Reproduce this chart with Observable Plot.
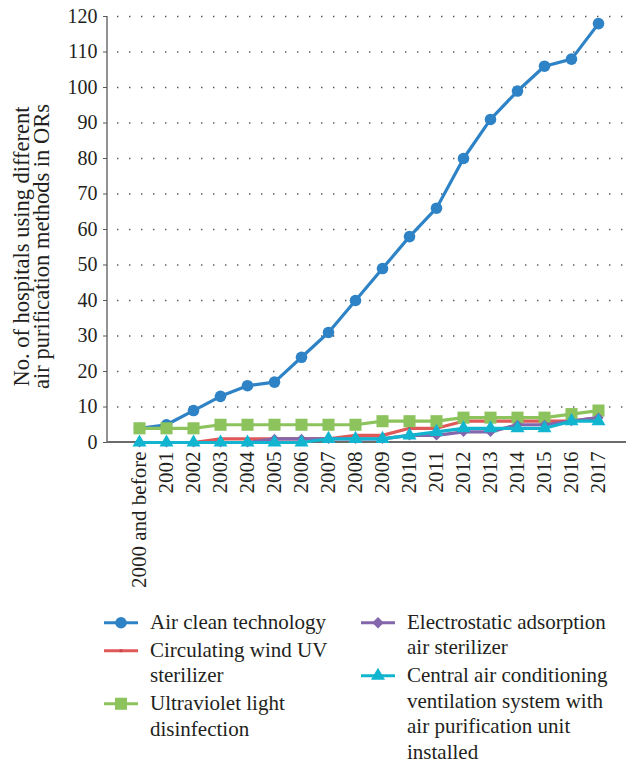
<!DOCTYPE html>
<html>
<head>
<meta charset="utf-8">
<script src="https://cdn.jsdelivr.net/npm/d3@7"></script>
<script src="https://cdn.jsdelivr.net/npm/@observablehq/plot@0.6"></script>
<style>
  html, body { margin: 0; padding: 0; background: #fff; }
  #wrap { width: 626px; height: 763px; position: relative; overflow: hidden; }
  #chart svg, #chart svg text { font-family: "Liberation Serif", "Times New Roman", serif !important; }
  #legend { position: relative; height: 154px; padding-top: 9.5px; font-family: "Liberation Serif", "Times New Roman", serif; font-size: 21px; color: #231f20; }
  .col { position: absolute; top: 9.5px; }
  .item { display: flex; align-items: flex-start; margin-bottom: 2.5px; }
  .item svg { flex: none; margin-top: 0; }
  .item .txt { margin-left: 12px; line-height: 25.5px; white-space: nowrap; }
</style>
</head>
<body>
<div id="wrap">
  <div id="chart"></div>
  <div id="legend"></div>
</div>
<script>
// ---- data ----
const categories = ["2000 and before","2001","2002","2003","2004","2005","2006","2007","2008","2009","2010","2011","2012","2013","2014","2015","2016","2017"];
const airClean      = [4, 5, 9, 13, 16, 17, 24, 31, 40, 49, 58, 66, 80, 91, 99, 106, 108, 118];
const circulatingUV = [0, 0, 0, 1, 1, 1, 1, 1, 2, 2, 4, 4, 6, 6, 6, 6, 6, 7];
const ultraviolet   = [4, 4, 4, 5, 5, 5, 5, 5, 5, 6, 6, 6, 7, 7, 7, 7, 8, 9];
const electrostatic = [0, 0, 0, 0, 0, 1, 1, 1, 1, 1, 2, 2, 3, 3, 5, 5, 6, 7];
const centralAir    = [0, 0, 0, 0, 0, 0, 0, 1, 1, 1, 2, 3, 4, 4, 4, 4, 6, 6];
const yTicks = [0, 10, 20, 30, 40, 50, 60, 70, 80, 90, 100, 110, 120];
const yLabel = "No. of hospitals using different\nair purification methods in ORs";
const seriesNames = [
  "Air clean technology",
  "Circulating wind UV sterilizer",
  "Ultraviolet light disinfection",
  "Electrostatic adsorption air sterilizer",
  "Central air conditioning ventilation system with air purification unit installed"
];
const legendLines = [
  ["Air clean technology"],
  ["Circulating wind UV", "sterilizer"],
  ["Ultraviolet light", "disinfection"],
  ["Electrostatic adsorption", "air sterilizer"],
  ["Central air conditioning", "ventilation system with", "air purification unit", "installed"]
];

// ---- styles ----
const colors = ["#2e83c6", "#e05858", "#8cc35c", "#8466ac", "#12b5cf"];
const markerColors = ["#2e83c6", "#c94444", "#8cc35c", "#8466ac", "#12b5cf"];
const symbols = ["circle", "square", "square", "diamond2", "triangle"];
const radii = [5.8, 1.6, 6.8, 4.6, 5.2];

const allValues = [airClean, circulatingUV, ultraviolet, electrostatic, centralAir];
const rows = [];
seriesNames.forEach((s, i) => {
  categories.forEach((c, j) => rows.push({series: s, idx: i, cat: c, value: allValues[i][j]}));
});

function axisLines(index, scales, values, dims) {
  const g = d3.create("svg:g");
  const x0 = dims.marginLeft, x1 = dims.width - dims.marginRight;
  const y0 = dims.marginTop, y1 = dims.height - dims.marginBottom;
  g.append("line").attr("x1", x0).attr("x2", x0).attr("y1", y0).attr("y2", y1)
    .attr("stroke", "#595959").attr("stroke-width", 1.3);
  g.append("line").attr("x1", x0).attr("x2", x1).attr("y1", y1).attr("y2", y1)
    .attr("stroke", "#6b6b6b").attr("stroke-width", 1.8);
  return g.node();
}

const marks = [
  Plot.ruleY(yTicks.filter(d => d > 0), {
    stroke: "#555", strokeWidth: 1.4, strokeDasharray: "1.4,10.6", strokeDashoffset: -10
  }),
  axisLines,
  Plot.axisY({ticks: yTicks, tickSize: 4, tickPadding: 6, fontSize: 20, label: null, stroke: "#595959"}),
  Plot.axisX({tickRotate: -90, tickSize: 0, tickPadding: 9, fontSize: 21, label: null}),
  Plot.text([yLabel], {
    text: d => d, frameAnchor: "left", textAnchor: "middle", lineAnchor: "middle",
    rotate: -90, dx: -75, dy: 17,
    fontSize: 22.5, lineHeight: 0.9, fill: "#231f20"
  })
];
seriesNames.forEach((s, i) => {
  const d = rows.filter(r => r.idx === i);
  marks.push(Plot.lineY(d, {x: "cat", y: "value", stroke: colors[i], strokeWidth: 3.2}));
  marks.push(Plot.dot(d, {x: "cat", y: "value", symbol: symbols[i], r: radii[i], fill: markerColors[i], stroke: "none"}));
});

const chart = Plot.plot({
  width: 626,
  height: 600,
  marginLeft: 107,
  marginRight: 0,
  marginTop: 16,
  marginBottom: 158,
  style: {fontFamily: "Liberation Serif", color: "#231f20", background: "white", overflow: "visible"},
  x: {type: "point", domain: categories, range: [120, 617], label: null},
  y: {domain: [0, 120], label: null},
  marks
});
document.getElementById("chart").appendChild(chart);

// ---- legend ----
function swatch(i) {
  const svg = d3.create("svg").attr("width", 34).attr("height", 25.5);
  svg.append("line").attr("x1", 0).attr("x2", 34).attr("y1", 12.75).attr("y2", 12.75)
    .attr("stroke", colors[i]).attr("stroke-width", 3.2);
  const sym = {circle: d3.symbolCircle, square: d3.symbolSquare, diamond2: d3.symbolSquare, triangle: d3.symbolTriangle}[symbols[i]];
  const size = Math.PI * radii[i] * radii[i];
  svg.append("path").attr("d", d3.symbol(sym, size)())
    .attr("transform", `translate(17,12.75)` + (symbols[i] === "diamond2" ? " rotate(45)" : ""))
    .attr("fill", markerColors[i]);
  return svg.node();
}
const legend = document.getElementById("legend");
const columns = [[0, 1, 2], [3, 4]];
const lefts = [104, 361];
columns.forEach((col, ci) => {
  const div = document.createElement("div");
  div.className = "col";
  div.style.left = lefts[ci] + "px";
  col.forEach(i => {
    const item = document.createElement("div");
    item.className = "item";
    item.appendChild(swatch(i));
    const t = document.createElement("div");
    t.className = "txt";
    t.innerHTML = legendLines[i].join("<br>");
    item.appendChild(t);
    div.appendChild(item);
  });
  legend.appendChild(div);
});
</script>
</body>
</html>
